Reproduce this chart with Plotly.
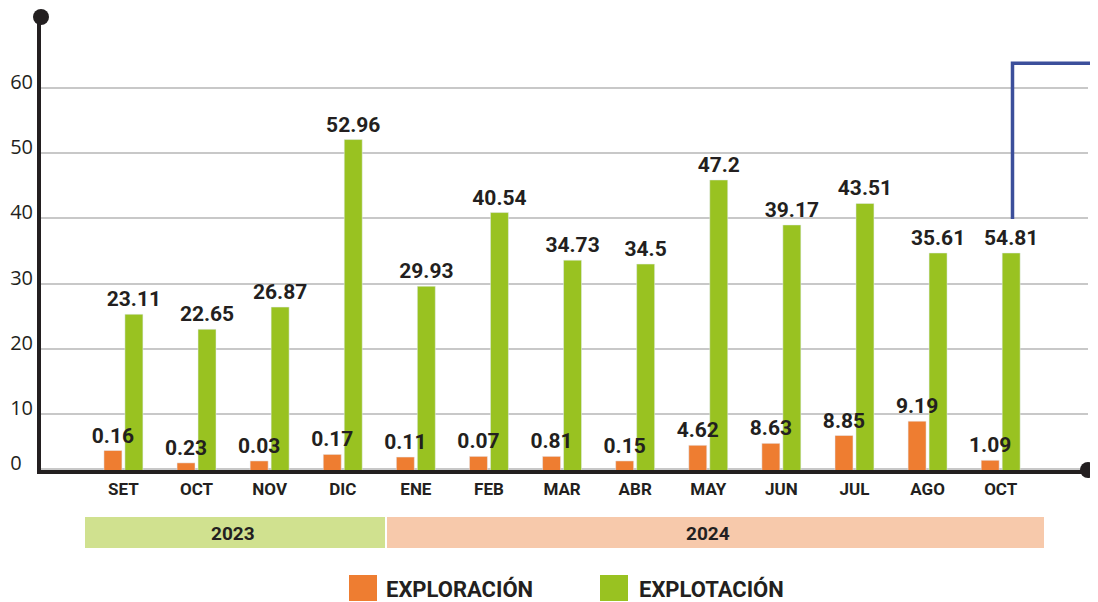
import plotly.graph_objects as go

# data
months = ["SET", "OCT", "NOV", "DIC", "ENE", "FEB", "MAR", "ABR", "MAY", "JUN", "JUL", "AGO", "OCT"]
years = ["2023", "2023", "2023", "2023", "2024", "2024", "2024", "2024", "2024", "2024", "2024", "2024", "2024"]
exploracion_txt = ["0.16", "0.23", "0.03", "0.17", "0.11", "0.07", "0.81", "0.15", "4.62", "8.63", "8.85", "9.19", "1.09"]
explotacion_txt = ["23.11", "22.65", "26.87", "52.96", "29.93", "40.54", "34.73", "34.5", "47.2", "39.17", "43.51", "35.61", "54.81"]
# bar heights as drawn in the chart
exploracion = [4.4, 2.5, 2.8, 3.8, 3.4, 3.5, 3.5, 2.8, 5.2, 5.5, 6.7, 8.9, 2.9]
explotacion = [25.3, 23.0, 26.4, 52.1, 29.6, 40.9, 33.6, 33.0, 45.9, 39.0, 42.3, 34.7, 34.7]
y_ticks = [1.6, 10, 20, 30, 40, 50, 60]
y_ticktext = ["0\u2007", "10", "20", "30", "40", "50", "60"]

keys = [m + " " + y for m, y in zip(months, years)]

ORANGE = "#ee7d31"
GREEN = "#99c221"
DARK = "#231f20"
BOLD = "Roboto, sans-serif"

# page body has an 8px margin, so the figure is a bit smaller than the window
OFF = 8
W, H = 1090, 594
ML, MR, MT, MB = 33, 10, 9, 132


def px_x(p):
    return (p - OFF - ML) / (W - ML - MR)


def px_y(p):
    return (H - MB - (p - OFF)) / (H - MT - MB)


lbl_font = dict(family=BOLD, size=21, color=DARK, weight="bold")

fig = go.Figure()
fig.add_trace(go.Bar(x=keys, y=explotacion, name="EXPLOTACIÓN", marker_color=GREEN,
                     width=0.246, offset=0.02, text=explotacion_txt, textposition="outside",
                     textfont=lbl_font, constraintext="none", cliponaxis=False))
fig.add_trace(go.Bar(x=keys, y=exploracion, name="EXPLORACIÓN", marker_color=ORANGE,
                     width=0.246, offset=-0.267, text=exploracion_txt, textposition="outside",
                     textfont=lbl_font, constraintext="none", cliponaxis=False))

shapes = []
# year bands
shapes.append(dict(type="rect", xref="paper", yref="paper", x0=px_x(85), x1=px_x(385),
                   y0=px_y(548), y1=px_y(517), fillcolor="#d0e18f", line_width=0, layer="below"))
shapes.append(dict(type="rect", xref="paper", yref="paper", x0=px_x(387), x1=px_x(1044),
                   y0=px_y(548), y1=px_y(517), fillcolor="#f7c9ab", line_width=0, layer="below"))
# legend squares
shapes.append(dict(type="rect", xref="paper", yref="paper", x0=px_x(349), x1=px_x(377),
                   y0=px_y(601), y1=px_y(575), fillcolor=ORANGE, line_width=0))
shapes.append(dict(type="rect", xref="paper", yref="paper", x0=px_x(600), x1=px_x(628),
                   y0=px_y(601), y1=px_y(575), fillcolor=GREEN, line_width=0))
# axis end dots
for ax, ay in [(0, 1), (1, 0)]:
    shapes.append(dict(type="circle", xref="paper", yref="paper", xsizemode="pixel", ysizemode="pixel",
                       xanchor=ax, yanchor=ay, x0=-8, x1=8, y0=-8, y1=8,
                       fillcolor=DARK, line_width=0))
# blue bracket line
shapes.append(dict(type="path", xref="paper", yref="y",
                   path="M %f,39.9 L %f,63.8 L %f,63.8" % (px_x(1012.5), px_x(1012.5), px_x(1098)),
                   line=dict(color="#3c4f9b", width=3.5)))

year_font = dict(family=BOLD, size=19, color=DARK, weight="bold")
leg_font = dict(family=BOLD, size=22, color=DARK, weight="bold")
annotations = [
    dict(text="2023", x=px_x(233), y=px_y(533), xref="paper", yref="paper", showarrow=False,
         xanchor="center", yanchor="middle", font=year_font),
    dict(text="2024", x=px_x(708), y=px_y(533), xref="paper", yref="paper", showarrow=False,
         xanchor="center", yanchor="middle", font=year_font),
    dict(text="EXPLORACIÓN", x=px_x(384), y=px_y(589), xref="paper", yref="paper", showarrow=False,
         xanchor="left", yanchor="middle", font=leg_font),
    dict(text="EXPLOTACIÓN", x=px_x(637), y=px_y(589), xref="paper", yref="paper", showarrow=False,
         xanchor="left", yanchor="middle", font=leg_font),
]

fig.update_layout(
    width=W, height=H,
    margin=dict(l=ML, r=MR, t=MT, b=MB),
    paper_bgcolor="white", plot_bgcolor="white",
    barmode="overlay", showlegend=False,
    shapes=shapes, annotations=annotations,
    xaxis=dict(type="category", range=[-1.128, 13.194], tickvals=keys, ticktext=months,
               showline=True, linecolor=DARK, linewidth=4, showgrid=False, ticks="",
               ticklabelstandoff=1, automargin=False,
               tickfont=dict(family=BOLD, size=17, color=DARK, weight="bold")),
    yaxis=dict(range=[1.41, 70.9], tickvals=y_ticks, ticktext=y_ticktext,
               showline=True, linecolor=DARK, linewidth=4, showgrid=True,
               gridcolor="#c8c8c8", gridwidth=2, zeroline=False, ticks="",
               ticklabelstandoff=0, ticklabelshift=-6, automargin=False,
               tickfont=dict(family="Open Sans", size=20, color=DARK)),
)

fig.write_html("out.html")
